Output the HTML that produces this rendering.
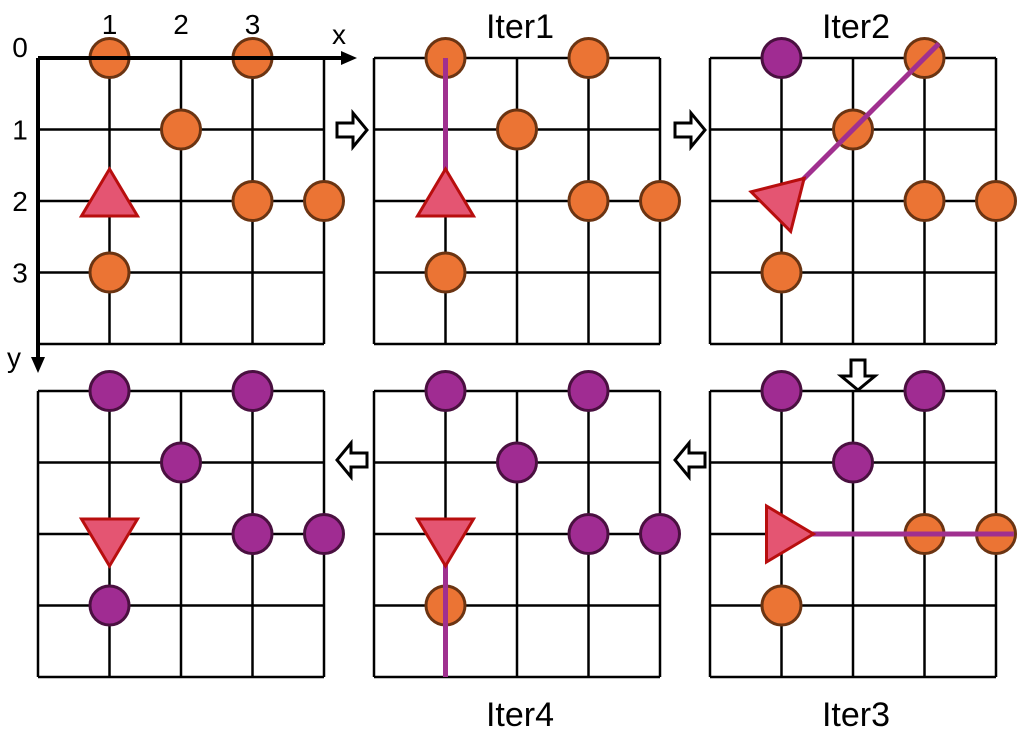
<!DOCTYPE html>
<html><head><meta charset="utf-8"><style>
body{margin:0;background:#fff;}
svg{display:block;font-family:"Liberation Sans",sans-serif;}
</style></head><body>
<svg id="c" width="1024" height="737" viewBox="0 0 1024 737"></svg>
<script>
const pointsX=[1,3,2,3,4,1];
const pointsY=[0,0,1,2,2,3];
const trianglePos=[1,2];
const panelTitles=["","Iter1","Iter2","Iter3","Iter4",""];
const panelStates=["oooooo","oooooo","pooooo","pppooo","pppppo","pppppp"];
const triAngles=[0,0,45,90,180,180];
const rayEnd=[null,[1,0],[3.2,-0.2],[4.25,2],[1,4],null];
const panelLeft=[38,374,710,710,374,38];
const panelTop=[58,58,58,391,391,391];
const cell=71.5;
const NS="http://www.w3.org/2000/svg";
const svg=document.getElementById('c');
function mk(t,a,p){const e=document.createElementNS(NS,t);for(const k in a)e.setAttribute(k,a[k]);(p||svg).appendChild(e);return e;}
function sx(p,x){return panelLeft[p]+x*cell;}
function sy(p,y){return panelTop[p]+y*cell;}
for(let p=0;p<6;p++){
  const g=mk('g',{});
  
  
  for(let i=0;i<=4;i++){
    mk('line',{x1:sx(p,i),y1:sy(p,0),x2:sx(p,i),y2:sy(p,4),stroke:'#000','stroke-width':2.5},g);
    mk('line',{x1:sx(p,0),y1:sy(p,i),x2:sx(p,4),y2:sy(p,i),stroke:'#000','stroke-width':2.5},g);
  }
  for(let i=0;i<pointsX.length;i++){
    const o=panelStates[p][i]==='o';
    const c=mk('circle',{cx:sx(p,pointsX[i]),cy:sy(p,pointsY[i]),r:19.5,fill:o?'#eb7434':'#a02c92',stroke:o?'#6b3412':'#4a1040','stroke-width':3},g);
    
    
  }
  if(rayEnd[p]){
    const r=mk('line',{x1:sx(p,trianglePos[0]),y1:sy(p,trianglePos[1]),x2:sx(p,rayEnd[p][0]),y2:sy(p,rayEnd[p][1]),stroke:'#a0308f','stroke-width':5},g);
    
    
  }
  const tx=sx(p,trianglePos[0]),ty=sy(p,trianglePos[1])-4;
  const t=mk('polygon',{points:`${tx},${ty-28} ${tx+28},${ty+19} ${tx-28},${ty+19}`,fill:'#e45572',stroke:'#b80e0e','stroke-width':3,transform:`rotate(${triAngles[p]} ${tx} ${ty+4})`},g);
  
  
  if(panelTitles[p]){
    const cx=sx(p,2);const y=p<3?38:726;
    const tt=mk('text',{x:cx+3,y:y,'font-size':34,'text-anchor':'middle',fill:'#000'},g);
    tt.textContent=panelTitles[p];
    
    
  }
}
mk('line',{x1:38,y1:58,x2:345,y2:58,stroke:'#000','stroke-width':4});
mk('polygon',{points:'357,58 341,51 341,65',fill:'#000'});
mk('line',{x1:38,y1:58,x2:38,y2:360,stroke:'#000','stroke-width':4});
mk('polygon',{points:'38,373 31,357 45,357',fill:'#000'});
const xt=mk('text',{x:332,y:44,'font-size':28});xt.textContent='x';

const yt=mk('text',{x:7,y:367,'font-size':28});yt.textContent='y';

const xTicks=['1','2','3'];const yTicks=['0','1','2','3'];
xTicks.forEach((s,i)=>{const e=mk('text',{x:sx(0,i+1),y:34,'font-size':28,'text-anchor':'middle'});e.textContent=s;
});
yTicks.forEach((s,i)=>{const e=mk('text',{x:20,y:sy(0,i)+(i==0?-1:10),'font-size':28,'text-anchor':'middle'});e.textContent=s;
});
function arrow(cx,cy,rot){
  const a=mk('polygon',{points:'-15,-7 1,-7 1,-17 15,0 1,17 1,7 -15,7',fill:'#fff',stroke:'#000','stroke-width':3,transform:`translate(${cx},${cy}) rotate(${rot})`});
  
  
}
arrow(352,130,0);arrow(690,130,0);arrow(858,375,90);arrow(690,460,180);arrow(352,460,180);
</script>
</body></html>
